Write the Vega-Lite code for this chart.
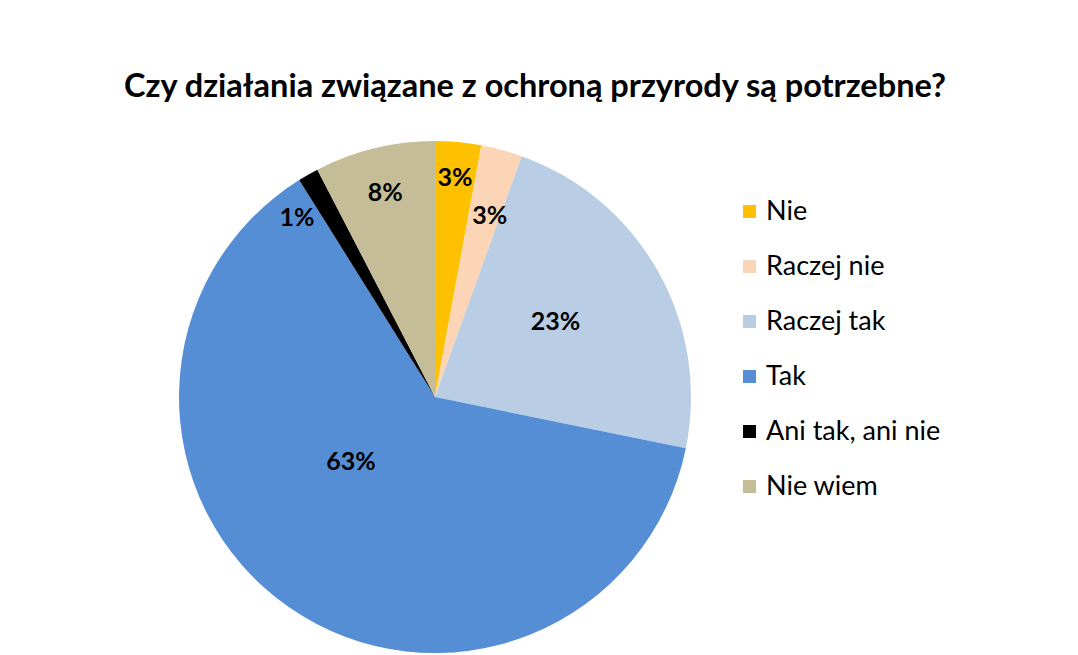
{
  "$schema": "https://vega.github.io/schema/vega-lite/v6.json",
  "width": 850,
  "height": 534,
  "autosize": {"type": "none"},
  "padding": {"left": 10, "top": 130, "right": 218, "bottom": 0},
  "background": "white",
  "config": {"view": {"stroke": null}, "font": "Lato"},
  "title": {
    "text": "Czy działania związane z ochroną przyrody są potrzebne?",
    "fontSize": 32.5,
    "font": "Lato",
    "fontWeight": "bold",
    "color": "black",
    "anchor": "middle",
    "frame": "group",
    "dx": 100,
    "offset": 27
  },
  "data": {
    "values": [
      {"cat": "Nie", "order": 1, "value": 2.9, "label": "3%"},
      {"cat": "Raczej nie", "order": 2, "value": 2.6, "label": "3%"},
      {"cat": "Raczej tak", "order": 3, "value": 22.7, "label": "23%"},
      {"cat": "Tak", "order": 4, "value": 62.9, "label": "63%"},
      {"cat": "Ani tak, ani nie", "order": 5, "value": 1.3, "label": "1%"},
      {"cat": "Nie wiem", "order": 6, "value": 7.6, "label": "8%"}
    ]
  },
  "encoding": {
    "theta": {"field": "value", "type": "quantitative", "stack": true},
    "order": {"field": "order", "type": "quantitative"}
  },
  "layer": [
    {
      "mark": {"type": "arc", "radius": 256},
      "encoding": {
        "color": {
          "field": "cat",
          "type": "nominal",
          "scale": {
            "domain": ["Nie", "Raczej nie", "Raczej tak", "Tak", "Ani tak, ani nie", "Nie wiem"],
            "range": ["#FFC000", "#FBD5B5", "#B9CDE5", "#558ED5", "#000000", "#C4BD97"]
          },
          "legend": {
            "orient": "none",
            "legendX": 726,
            "legendY": 68,
            "title": null,
            "symbolType": "square",
            "symbolSize": 169,
            "symbolStrokeWidth": 0,
            "labelFontSize": 27,
            "labelFont": "Lato",
            "labelColor": "black",
            "labelLimit": 400,
            "rowPadding": 27,
            "labelOffset": 3
          }
        }
      }
    },
    {
      "mark": {"type": "text", "radius": 220, "fontSize": 25, "fontWeight": "bold", "color": "black"},
      "encoding": {"text": {"condition": {"test": "datum.cat === 'Nie'", "field": "label"}, "value": ""}}
    },
    {
      "mark": {"type": "text", "radius": 189, "thetaOffset": 0.03, "fontSize": 25, "fontWeight": "bold", "color": "black"},
      "encoding": {"text": {"condition": {"test": "datum.cat === 'Raczej nie'", "field": "label"}, "value": ""}}
    },
    {
      "mark": {"type": "text", "radius": 142, "thetaOffset": -0.044, "fontSize": 25, "fontWeight": "bold", "color": "black"},
      "encoding": {"text": {"condition": {"test": "datum.cat === 'Raczej tak'", "field": "label"}, "value": ""}}
    },
    {
      "mark": {"type": "text", "radius": 106, "thetaOffset": 0.307, "fontSize": 25, "fontWeight": "bold", "color": "black"},
      "encoding": {"text": {"condition": {"test": "datum.cat === 'Tak'", "field": "label"}, "value": ""}}
    },
    {
      "mark": {"type": "text", "radius": 226, "thetaOffset": -0.138, "fontSize": 25, "fontWeight": "bold", "color": "black"},
      "encoding": {"text": {"condition": {"test": "datum.cat === 'Ani tak, ani nie'", "field": "label"}, "value": ""}}
    },
    {
      "mark": {"type": "text", "radius": 210, "fontSize": 25, "fontWeight": "bold", "color": "black"},
      "encoding": {"text": {"condition": {"test": "datum.cat === 'Nie wiem'", "field": "label"}, "value": ""}}
    }
  ]
}
